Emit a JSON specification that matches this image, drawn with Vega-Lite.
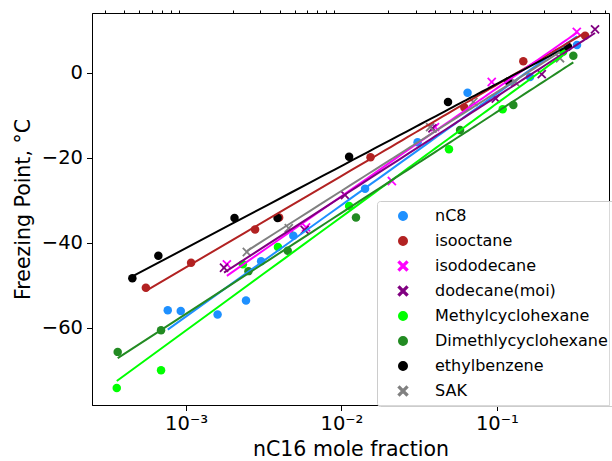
{
 "$schema": "https://vega.github.io/schema/vega-lite/v6.json",
 "width": 517, "height": 392,
 "autosize": {"type": "none"},
 "padding": {"left": 92, "top": 13, "right": 3, "bottom": 56},
 "datasets": {
  "pts": [
   {"series": "nC8", "x": 0.000762, "y": -55.9},
   {"series": "nC8", "x": 0.000924, "y": -56.1},
   {"series": "nC8", "x": 0.001595, "y": -56.9},
   {"series": "nC8", "x": 0.00243, "y": -53.6},
   {"series": "nC8", "x": 0.00304, "y": -44.4},
   {"series": "nC8", "x": 0.0049, "y": -38.4},
   {"series": "nC8", "x": 0.01419, "y": -27.3},
   {"series": "nC8", "x": 0.0309, "y": -16.4},
   {"series": "nC8", "x": 0.0648, "y": -4.7},
   {"series": "nC8", "x": 0.1635, "y": -1.0},
   {"series": "nC8", "x": 0.328, "y": 6.5},
   {"series": "isooctane", "x": 0.000551, "y": -50.6},
   {"series": "isooctane", "x": 0.001077, "y": -44.7},
   {"series": "isooctane", "x": 0.00278, "y": -36.9},
   {"series": "isooctane", "x": 0.00397, "y": -34.1},
   {"series": "isooctane", "x": 0.01538, "y": -19.9},
   {"series": "isooctane", "x": 0.0618, "y": -8.2},
   {"series": "isooctane", "x": 0.148, "y": 2.7},
   {"series": "isooctane", "x": 0.37, "y": 8.7},
   {"series": "isododecane", "x": 0.00183, "y": -45.1},
   {"series": "isododecane", "x": 0.00592, "y": -36.4},
   {"series": "isododecane", "x": 0.0211, "y": -25.5},
   {"series": "isododecane", "x": 0.04, "y": -12.8},
   {"series": "isododecane", "x": 0.0927, "y": -2.2},
   {"series": "isododecane", "x": 0.327, "y": 9.6},
   {"series": "dodecane(moi)", "x": 0.001755, "y": -45.9},
   {"series": "dodecane(moi)", "x": 0.0058, "y": -37.0},
   {"series": "dodecane(moi)", "x": 0.01054, "y": -28.8},
   {"series": "dodecane(moi)", "x": 0.0385, "y": -13.1},
   {"series": "dodecane(moi)", "x": 0.0984, "y": -6.1},
   {"series": "dodecane(moi)", "x": 0.1945, "y": -0.35},
   {"series": "dodecane(moi)", "x": 0.4285, "y": 10.2},
   {"series": "Methylcyclohexane", "x": 0.000358, "y": -74.2},
   {"series": "Methylcyclohexane", "x": 0.00069, "y": -70.0},
   {"series": "Methylcyclohexane", "x": 0.00232, "y": -45.1},
   {"series": "Methylcyclohexane", "x": 0.0039, "y": -41.0},
   {"series": "Methylcyclohexane", "x": 0.0112, "y": -31.4},
   {"series": "Methylcyclohexane", "x": 0.0492, "y": -18.0},
   {"series": "Methylcyclohexane", "x": 0.109, "y": -8.6},
   {"series": "Methylcyclohexane", "x": 0.267, "y": 4.9},
   {"series": "Dimethlycyclohexane", "x": 0.000363, "y": -65.7},
   {"series": "Dimethlycyclohexane", "x": 0.00069, "y": -60.6},
   {"series": "Dimethlycyclohexane", "x": 0.00252, "y": -46.7},
   {"series": "Dimethlycyclohexane", "x": 0.00451, "y": -41.9},
   {"series": "Dimethlycyclohexane", "x": 0.0124, "y": -34.1},
   {"series": "Dimethlycyclohexane", "x": 0.058, "y": -13.5},
   {"series": "Dimethlycyclohexane", "x": 0.1277, "y": -7.6},
   {"series": "Dimethlycyclohexane", "x": 0.3106, "y": 4.0},
   {"series": "ethylbenzene", "x": 0.000451, "y": -48.4},
   {"series": "ethylbenzene", "x": 0.000663, "y": -43.1},
   {"series": "ethylbenzene", "x": 0.00205, "y": -34.2},
   {"series": "ethylbenzene", "x": 0.00388, "y": -34.2},
   {"series": "ethylbenzene", "x": 0.0112, "y": -19.8},
   {"series": "ethylbenzene", "x": 0.0485, "y": -6.9},
   {"series": "ethylbenzene", "x": 0.1186, "y": -2.0},
   {"series": "ethylbenzene", "x": 0.287, "y": 6.1},
   {"series": "SAK", "x": 0.00246, "y": -42.2},
   {"series": "SAK", "x": 0.00458, "y": -36.6},
   {"series": "SAK", "x": 0.0372, "y": -12.8},
   {"series": "SAK", "x": 0.0706, "y": -6.9},
   {"series": "SAK", "x": 0.131, "y": -2.2},
   {"series": "SAK", "x": 0.255, "y": 3.4}
  ]
 },
 "config": {
  "view": {"stroke": "black", "strokeWidth": 1},
  "font": "DejaVu Sans",
  "axis": {
   "grid": false, "domainColor": "black", "tickColor": "black", "labelColor": "black", "titleColor": "black",
   "labelFont": "DejaVu Sans", "titleFont": "DejaVu Sans", "titleFontWeight": "normal",
   "labelFontSize": 19.5, "titleFontSize": 20.5, "tickSize": 5.5, "tickWidth": 1, "domainWidth": 1
  },
  "legend": {
   "labelFont": "DejaVu Sans", "labelFontSize": 16, "labelColor": "black", "labelLimit": 0
  }
 },
 "resolve": {"axis": {"x": "independent"}},
 "layer": [
  {
   "data": {"name": "pts"},
   "mark": {"type": "point", "filled": true, "opacity": 1, "size": 72},
   "encoding": {
    "x": {"field": "x", "type": "quantitative",
     "scale": {"type": "log", "domain": [0.000248, 0.527], "nice": false},
     "axis": {"values": [0.001, 0.01, 0.1], "title": "nC16 mole fraction", "labelPadding": 4, "titlePadding": 6,
      "labelExpr": "datum.value < 0.005 ? '10⁻³' : (datum.value < 0.05 ? '10⁻²' : '10⁻¹')"}},
    "y": {"field": "y", "type": "quantitative",
     "scale": {"domain": [-78.2, 14.04], "nice": false, "zero": false},
     "axis": {"values": [-60, -40, -20, 0], "title": "Freezing Point, °C", "labelPadding": 4, "titlePadding": 8}},
    "color": {"field": "series", "type": "nominal",
     "scale": {"domain": ["nC8", "isooctane", "isododecane", "dodecane(moi)", "Methylcyclohexane", "Dimethlycyclohexane", "ethylbenzene", "SAK"],
      "range": ["#1E90FF", "#B22222", "#FF00FF", "#800080", "#00FF00", "#228B22", "#000000", "#808080"]},
     "legend": {"title": null, "orient": "none", "legendX": 285, "legendY": 188, "padding": 7,
      "fillColor": "rgba(255,255,255,0.85)", "strokeColor": "#cccccc", "cornerRadius": 3, "labelLimit": 0,
      "symbolSize": 72, "rowPadding": 9, "symbolOffset": 11, "labelOffset": 24}},
    "shape": {"field": "series", "type": "nominal",
     "scale": {"domain": ["nC8", "isooctane", "isododecane", "dodecane(moi)", "Methylcyclohexane", "Dimethlycyclohexane", "ethylbenzene", "SAK"],
      "range": ["circle", "circle", "M1.1,0.8L0.3,0L1.1,-0.8L0.8,-1.1L0,-0.3L-0.8,-1.1L-1.1,-0.8L-0.3,0L-1.1,0.8L-0.8,1.1L0,0.3L0.8,1.1Z", "M1.1,0.8L0.3,0L1.1,-0.8L0.8,-1.1L0,-0.3L-0.8,-1.1L-1.1,-0.8L-0.3,0L-1.1,0.8L-0.8,1.1L0,0.3L0.8,1.1Z", "circle", "circle", "circle", "M1.1,0.8L0.3,0L1.1,-0.8L0.8,-1.1L0,-0.3L-0.8,-1.1L-1.1,-0.8L-0.3,0L-1.1,0.8L-0.8,1.1L0,0.3L0.8,1.1Z"]}}
   }
  },
  {
   "data": {"name": "pts"},
   "transform": [{"regression": "y", "on": "x", "groupby": ["series"], "method": "log"}],
   "mark": {"type": "line", "strokeWidth": 2},
   "encoding": {
    "x": {"field": "x", "type": "quantitative",
     "axis": {"values": [0.0003, 0.0004, 0.0005, 0.0006, 0.0007, 0.0008, 0.0009, 0.002, 0.003, 0.004, 0.005, 0.006, 0.007, 0.008, 0.009, 0.02, 0.03, 0.04, 0.05, 0.06, 0.07, 0.08, 0.09, 0.2, 0.3, 0.4, 0.5],
      "labels": false, "domain": false, "tickSize": 3, "title": null}},
    "y": {"field": "y", "type": "quantitative"},
    "stroke": {"field": "series", "type": "nominal", "legend": null,
     "scale": {"domain": ["nC8", "isooctane", "isododecane", "dodecane(moi)", "Methylcyclohexane", "Dimethlycyclohexane", "ethylbenzene", "SAK"],
      "range": ["#1E90FF", "#B22222", "#FF00FF", "#800080", "#00FF00", "#228B22", "#000000", "#808080"]}}
   }
  }
 ]
}
